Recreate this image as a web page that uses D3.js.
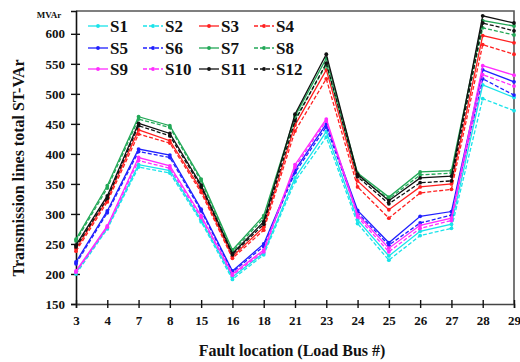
<!DOCTYPE html>
<html>
<head>
<meta charset="utf-8">
<script src="https://cdn.jsdelivr.net/npm/d3@7"></script>
<style>
  html, body { margin: 0; padding: 0; background: #fff; }
  svg { display: block; font-family: "Liberation Serif", "Times New Roman", serif; font-weight: bold; }
</style>
</head>
<body>
<svg id="chart" width="520" height="362"></svg>
<script>
// Fault locations (load bus numbers)
const categories = ["3","4","7","8","15","16","18","21","23","24","25","26","27","28","29"];
const seriesNames = ["S1","S2","S3","S4","S5","S6","S7","S8","S9","S10","S11","S12"];
const seriesColors = ["#19e3ea","#19e3ea","#ff2020","#ff2020","#2020ff","#2020ff","#22a857","#22a857","#ff2cff","#ff2cff","#111111","#111111"];
const seriesDashed = [false,true,false,true,false,true,false,true,false,true,false,true];

// Total ST-VAr of transmission lines (MVAr) per scenario
const S1  = [203,277,382,372,290,195,235,360,437,290,230,271,283,515,494];
const S2  = [200,275,378,368,287,191,232,354,428,284,223,264,276,492,472];
const S3  = [242,324,440,422,340,229,278,448,540,355,307,345,350,597,585];
const S4  = [238,320,433,418,336,226,273,438,525,345,293,335,341,582,566];
const S5  = [220,305,408,398,308,205,250,373,450,306,252,296,304,540,520];
const S6  = [217,302,404,394,305,203,246,369,445,302,248,285,298,525,498];
const S7  = [258,347,462,447,358,240,297,463,559,368,328,370,372,622,613];
const S8  = [255,343,458,444,355,237,293,458,548,364,325,365,368,610,598];
const S9  = [205,280,394,380,297,200,240,382,458,299,243,281,293,547,531];
const S10 = [203,278,389,376,294,198,237,378,455,295,237,276,289,532,513];
const S11 = [248,330,451,434,348,234,287,466,566,366,322,360,363,630,618];
const S12 = [245,326,447,430,345,232,283,455,551,362,317,352,355,618,605];
const seriesValues = [S1,S2,S3,S4,S5,S6,S7,S8,S9,S10,S11,S12];

const yTicks = [150,200,250,300,350,400,450,500,550,600];

const svg = d3.select("#chart");
const margin = {left: 76, right: 6, top: 11, bottom: 58};
const W = 520, H = 362;
const x0 = margin.left, x1 = W - margin.right;
const y0 = H - margin.bottom, y1 = margin.top;

const x = d3.scalePoint().domain(categories).range([x0, x1]).padding(0);
const y = d3.scaleLinear().domain([150, 638]).range([y0, y1]);

// frame: top and right edges
svg.append("path")
  .attr("d", `M${x0},${y1}H${x1}V${y0}`)
  .attr("fill", "none").attr("stroke", "#555").attr("stroke-width", 1.6);

// y axis
const yAxis = svg.append("g").attr("transform", `translate(${x0},0)`)
  .call(d3.axisLeft(y).tickValues(yTicks).tickSize(5).tickPadding(6).tickFormat(d3.format("d")));
yAxis.select(".domain").attr("stroke", "#111").attr("stroke-width", 1.6);
yAxis.selectAll(".tick line").attr("stroke", "#111").attr("stroke-width", 1.4).attr("x2", -5).attr("x1", 4);
yAxis.selectAll(".tick text").attr("font-size", 13).attr("font-weight", "bold")
  .attr("font-family", "Liberation Serif, serif").attr("fill", "#111");

// x axis
const xAxis = svg.append("g").attr("transform", `translate(0,${y0})`)
  .call(d3.axisBottom(x).tickSize(4).tickPadding(8));
xAxis.select(".domain").attr("stroke", "#444").attr("stroke-width", 1.6);
xAxis.selectAll(".tick line").attr("stroke", "#111").attr("stroke-width", 1.4).attr("y1", -4).attr("y2", 4);
xAxis.selectAll(".tick text").attr("font-size", 13).attr("font-weight", "bold")
  .attr("font-family", "Liberation Serif, serif").attr("fill", "#111");

// unit label
svg.append("text").attr("x", 49).attr("y", 18).attr("text-anchor", "middle")
  .attr("font-size", 9).attr("fill", "#111").text("MVAr");

// axis titles
svg.append("text").attr("x", 292).attr("y", 356).attr("text-anchor", "middle")
  .attr("font-size", 16).attr("fill", "#111").text("Fault location (Load Bus #)");
svg.append("text").attr("transform", "translate(24,168) rotate(-90)").attr("text-anchor", "middle")
  .attr("font-size", 16).attr("fill", "#111").text("Transmission lines total ST-VAr");

// series lines and markers
const line = d3.line().x((d, i) => x(categories[i])).y(d => y(d));
const plot = svg.append("g");
seriesValues.forEach((vals, s) => {
  const g = plot.append("g");
  g.append("path").datum(vals).attr("d", line)
    .attr("fill", "none").attr("stroke", seriesColors[s]).attr("stroke-width", 1.3)
    .attr("stroke-dasharray", seriesDashed[s] ? "4,2" : null);
  g.selectAll("circle").data(vals).join("circle")
    .attr("cx", (d, i) => x(categories[i])).attr("cy", d => y(d)).attr("r", 1.9)
    .attr("fill", seriesColors[s]);
});

// legend: 3 rows x 4 columns
const legendCols = [88, 143, 199, 254];
const legendRows = [26, 48, 69];
seriesNames.forEach((name, s) => {
  const cx = legendCols[s % 4], cy = legendRows[Math.floor(s / 4)];
  const g = svg.append("g").attr("transform", `translate(${cx},${cy})`);
  g.append("line").attr("x1", 0).attr("x2", 20).attr("y1", 0).attr("y2", 0)
    .attr("stroke", seriesColors[s]).attr("stroke-width", 1.3)
    .attr("stroke-dasharray", seriesDashed[s] ? "4,2" : null);
  g.append("circle").attr("cx", 10).attr("cy", 0).attr("r", 1.9).attr("fill", seriesColors[s]);
  g.append("text").attr("x", 22).attr("y", 6).attr("font-size", 17).attr("fill", "#111").text(name);
});
</script>
</body>
</html>
